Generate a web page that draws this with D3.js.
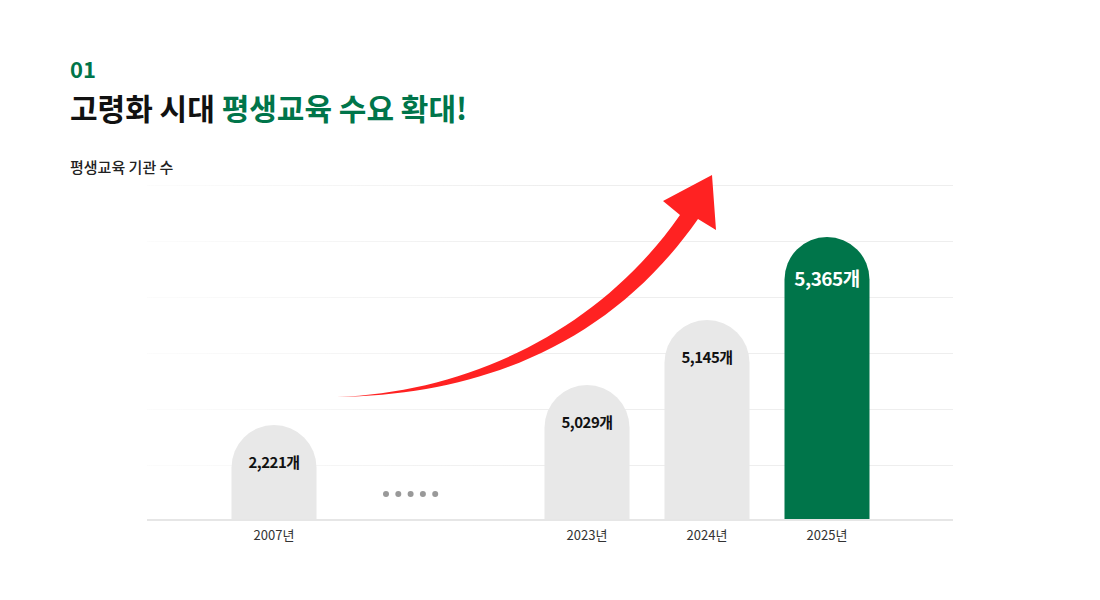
<!DOCTYPE html>
<html><head><meta charset="utf-8">
<script src="https://cdn.jsdelivr.net/npm/d3@7/dist/d3.min.js"></script>
<style>body{margin:0;background:#fff;font-family:"Noto Sans CJK KR","Noto Sans",sans-serif}</style>
</head><body><svg id="c" width="1100" height="600"></svg>
<script>
const categories=["2007년","…","2023년","2024년","2025년"];
const years=["2007년","2023년","2024년","2025년"];
const values=[2221,5029,5145,5365];
const labels=["2,221개","5,029개","5,145개","5,365개"];
const svg=d3.select("#c");
const green="#00754a";
svg.append("text").attr("x",70).attr("y",78).attr("font-size",22).attr("font-weight",700).attr("fill",green).text("01");
const t=svg.append("text").attr("x",70).attr("y",120).attr("font-size",30).attr("font-weight",700);
t.append("tspan").attr("fill","#111").text("고령화 시대 ");
t.append("tspan").attr("fill",green).text("평생교육 수요 확대!");
svg.append("text").attr("x",70).attr("y",173).attr("font-size",15).attr("font-weight",500).attr("fill","#222").text("평생교육 기관 수");
const base=519;
const x=d3.scalePoint().domain(categories).range([274,827]);
const xs=d3.scaleOrdinal().domain(categories).range([274,411,587,707,827]);
// chart is not to scale: piecewise scale
const h=d3.scaleLinear().domain([0,2221,5029,5145,5365]).range([0,94,134,199,282]);
const grad=svg.append("defs").append("linearGradient").attr("id","g");
grad.append("stop").attr("offset","0").attr("stop-color","#eee").attr("stop-opacity",0.2);
grad.append("stop").attr("offset","0.5").attr("stop-color","#eee").attr("stop-opacity",1);
[185,241,297,353,409,465].forEach(y=>svg.append("rect").attr("x",147).attr("y",y).attr("width",806).attr("height",1).attr("fill","url(#g)"));
svg.append("line").attr("x1",147).attr("x2",953).attr("y1",base+1).attr("y2",base+1).attr("stroke","#e6e6e6").attr("stroke-width",2);
const bw=85,r=bw/2;
years.forEach((yr,i)=>{
  const cx=xs(yr),top=base-h(values[i]),last=i===3;
  const p=d3.path();
  p.moveTo(cx-r,base);p.lineTo(cx-r,top+r);p.arc(cx,top+r,r,Math.PI,0);p.lineTo(cx+r,base);p.closePath();
  svg.append("path").attr("d",p.toString()).attr("fill",last?green:"#e8e8e8");
  svg.append("text").attr("x",cx).attr("y",top+(last?49:43)).attr("text-anchor","middle")
    .attr("font-size",last?19:15).attr("font-weight",700).attr("fill",last?"#fff":"#111").attr("letter-spacing",-0.5).text(labels[i]);
  svg.append("text").attr("x",cx).attr("y",base+21).attr("text-anchor","middle").attr("font-size",13).attr("fill","#333").text(yr);
});
[0,1,2,3,4].forEach(k=>svg.append("circle").attr("cx",386+k*12.3).attr("cy",494).attr("r",3).attr("fill","#999"));
// arrow
svg.append("path").attr("fill","#ff2222").attr("d",
 "M337,397 C470,392 600,330 680,215 L663,201 L712,175 L716,230 L698,219 C610,345 480,395 337,397 Z");
</script></body></html>
